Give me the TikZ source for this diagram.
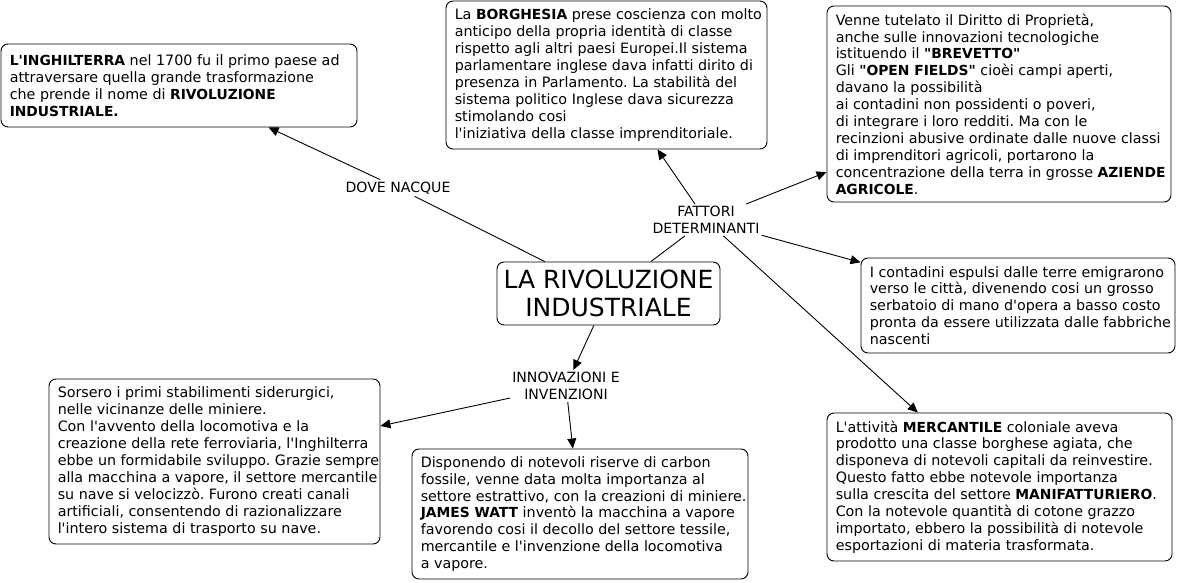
\documentclass[tikz,border=0pt]{standalone}
\usepackage{fontspec}
\newfontfamily\vfont{DejaVu Sans}
\usetikzlibrary{arrows.meta}
\newcommand{\Bd}[1]{{\fontsize{13.85}{16.9}\selectfont\bfseries #1}}
\tikzset{
  frame/.style={draw, rounded corners=7pt, line width=0.9pt, inner sep=0pt},
  boxtext/.style={inner sep=0pt, align=left, anchor=west,
    font=\vfont\frenchspacing\fontsize{14.3}{16.9}\selectfont},
  lbl/.style={inner sep=2pt, align=center, font=\vfont\fontsize{14.1}{17}\selectfont},
  central/.style={draw, rounded corners=7pt, line width=0.9pt, inner sep=0pt, align=center,
    minimum width=223pt, minimum height=63pt, font=\vfont\fontsize{25}{28}\selectfont},
  conn/.style={line width=0.9pt},
  arr/.style={line width=0.9pt, -{Triangle[length=10pt,width=9pt]}}
}
\begin{document}
\begin{tikzpicture}[x=1pt,y=-1pt]
\useasboundingbox (0,0) rectangle (1178,583);
\node[central] (c) at (608.5,293.5) {LA RIVOLUZIONE\\INDUSTRIALE};

\node[frame, minimum width=356pt, minimum height=83pt] (b1) at (179,85.5) {};
\node[boxtext] (t1) at ([xshift=9pt]b1.west)
{\Bd{L'INGHILTERRA} nel 1700 fu il primo paese ad\\attraversare quella grande trasformazione\\che prende il nome di \Bd{RIVOLUZIONE}\\\Bd{INDUSTRIALE.}};

\node[frame, minimum width=321pt, minimum height=148pt] (b2) at (606.5,75) {};
\node[boxtext] (t2) at ([xshift=9pt]b2.west)
{La \Bd{BORGHESIA} prese coscienza con molto\\anticipo della propria identità di classe\\rispetto agli altri paesi Europei.Il sistema\\parlamentare inglese dava infatti dirito di\\presenza in Parlamento. La stabilità del\\sistema politico Inglese dava sicurezza\\stimolando cosi\\l'iniziativa della classe imprenditoriale.};

\node[frame, minimum width=344pt, minimum height=196pt] (b3) at (999,104) {};
\node[boxtext] (t3) at ([xshift=9pt]b3.west)
{Venne tutelato il Diritto di Proprietà,\\anche sulle innovazioni tecnologiche\\istituendo il \Bd{"BREVETTO"}\\Gli \Bd{"OPEN FIELDS"} cioèi campi aperti,\\davano la possibilità\\ai contadini non possidenti o poveri,\\di integrare i loro redditi. Ma con le\\recinzioni abusive ordinate dalle nuove classi\\di imprenditori agricoli, portarono la\\concentrazione della terra in grosse \Bd{AZIENDE}\\\Bd{AGRICOLE}.};

\node[frame, minimum width=314pt, minimum height=95pt] (b4) at (1018,305.5) {};
\node[boxtext] (t4) at ([xshift=9pt]b4.west)
{I contadini espulsi dalle terre emigrarono\\verso le città, divenendo cosi un grosso\\serbatoio di mano d'opera a basso costo\\pronta da essere utilizzata dalle fabbriche\\nascenti};

\node[frame, minimum width=331pt, minimum height=165pt] (b5) at (214.5,461.5) {};
\node[boxtext] (t5) at ([xshift=9pt]b5.west)
{Sorsero i primi stabilimenti siderurgici,\\nelle vicinanze delle miniere.\\Con l'avvento della locomotiva e la\\creazione della rete ferroviaria, l'Inghilterra\\ebbe un formidabile sviluppo. Grazie sempre\\alla macchina a vapore, il settore mercantile\\su nave si velocizzò. Furono creati canali\\artificiali, consentendo di razionalizzare\\l'intero sistema di trasporto su nave.};

\node[frame, minimum width=336pt, minimum height=130pt] (b6) at (580,514) {};
\node[boxtext] (t6) at ([xshift=9pt]b6.west)
{Disponendo di notevoli riserve di carbon\\fossile, venne data molta importanza al\\settore estrattivo, con la creazioni di miniere.\\\Bd{JAMES WATT} inventò la macchina a vapore\\favorendo cosi il decollo del settore tessile,\\mercantile e l'invenzione della locomotiva\\a vapore.};

\node[frame, minimum width=345pt, minimum height=148pt] (b7) at (999.5,487) {};
\node[boxtext] (t7) at ([xshift=9pt]b7.west)
{L'attività \Bd{MERCANTILE} coloniale aveva\\prodotto una classe borghese agiata, che\\disponeva di notevoli capitali da reinvestire.\\Questo fatto ebbe notevole importanza\\sulla crescita del settore \Bd{MANIFATTURIERO}.\\Con la notevole quantità di cotone grazzo\\importato, ebbero la possibilità di notevole\\esportazioni di materia trasformata.};

\node[lbl] (l1) at (398,188) {DOVE NACQUE};
\node[lbl] (l2) at (706,220) {FATTORI\\DETERMINANTI};
\node[lbl] (l3) at (566,386) {INNOVAZIONI E\\INVENZIONI};

\draw[conn] (c) -- (l1);
\draw[arr] (l1) -- (b1);
\draw[conn] (c) -- (l2);
\draw[arr] (l2) -- (b2);
\draw[arr] (l2) -- (b3);
\draw[arr] (l2) -- (b4);
\draw[arr] (l2) -- (b7);
\draw[arr] (c) -- (l3);
\draw[arr] (l3) -- (b5);
\draw[arr] (l3) -- (b6);
\end{tikzpicture}
\end{document}
